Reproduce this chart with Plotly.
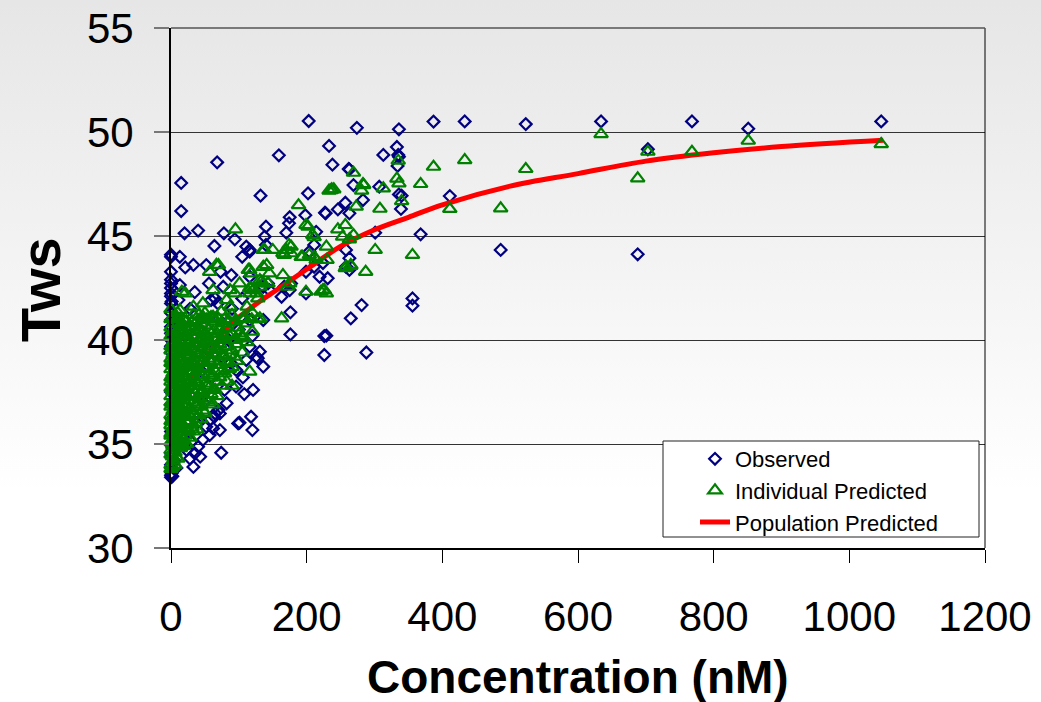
import base64
import plotly.graph_objects as go

# ---------------- data ----------------
# Observed (C nM, Tws)
obs_top = [(203, 50.53), (274, 50.2), (336, 50.13), (387, 50.5), (433, 50.51), (523, 50.38),
           (634, 50.51), (768, 50.51), (851, 50.16), (1047, 50.51), (703, 49.17), (233, 49.33),
           (333, 49.28), (68, 48.54), (159, 48.88), (313, 48.9), (335, 48.9), (336, 48.81),
           (238, 48.43), (334, 48.37), (263, 48.2), (262, 48.22), (15, 47.55)]
obs_upper = [(15, 46.2), (132, 46.94), (202, 47.05), (269, 47.45), (283, 46.73), (307, 47.37),
             (340, 46.94), (339, 46.3), (411, 46.92), (257, 46.6), (246, 46.28), (227, 46.12),
             (198, 46.0), (175, 45.9), (336, 47.0), (263, 46.09), (228, 46.09)]
obs_outliers = [(368, 45.08), (486, 44.33), (688, 44.12), (356, 42.0), (356, 41.65), (288, 39.4),
                (301, 45.16), (281, 41.68), (265, 41.04), (229, 40.21), (226, 40.19), (226, 39.28),
                (176, 40.27), (176, 41.33)]
obs_band = [(258, 44.33), (263, 43.93), (258, 43.52), (263, 43.37), (174, 45.61), (140, 45.45),
            (138, 44.97), (140, 44.57), (170, 45.16), (214, 45.2), (211, 44.57), (204, 44.25),
            (116, 44.33), (163, 42.08), (175, 42.4), (167, 42.56), (177, 42.72), (145, 42.4),
            (136, 42.56), (143, 42.72), (116, 43.04), (199, 43.28), (219, 43.04), (231, 42.97),
            (211, 43.52), (224, 43.7), (199, 42.24), (20, 45.13), (40, 45.26), (78, 45.13),
            (64, 44.52), (94, 44.84), (111, 44.49), (116, 44.25), (105, 44.0), (13, 44.0),
            (21, 43.49), (33, 43.61), (52, 43.6), (56, 42.72), (73, 43.28), (89, 43.12),
            (77, 42.56), (65, 42.0), (69, 41.76), (59, 41.92), (13, 42.64), (11, 41.92),
            (11, 40.8), (13, 40.48), (3, 40.96), (116, 40.96), (136, 40.96)]
obs_axis = [(0, 33.4), (0, 33.5), (1, 33.6), (2, 33.45), (0, 34.0), (1, 34.5), (0, 35.0),
            (0, 35.6), (1, 36.2), (0, 36.9), (0, 37.5), (1, 38.1), (0, 38.8), (0, 39.4),
            (0, 39.7), (0, 40.0), (0, 40.32), (0, 40.64), (0, 40.96), (0, 41.3), (0, 41.76),
            (1, 41.85), (0, 42.1), (0, 42.24), (0, 42.5), (0, 42.72), (0, 42.9), (0, 43.28),
            (0, 44.0), (0, 44.1)]
obs_cluster = [(8, 33.85), (33, 33.9), (23, 34.71), (35, 34.55), (43, 34.39), (40, 34.87),
               (28, 34.3), (18, 34.9), (30, 35.1), (74, 34.58), (52, 35.83), (57, 35.43),
               (72, 35.67), (62, 35.75), (64, 36.31), (57, 36.15), (65, 36.47), (70, 36.63),
               (99, 35.99), (101, 36.02), (118, 36.31), (120, 35.67), (82, 36.96), (72, 36.47),
               (79, 37.6), (96, 37.76), (108, 37.4), (121, 37.6), (96, 38.56), (111, 39.04),
               (136, 38.72), (126, 39.2), (128, 39.12), (131, 39.44), (116, 39.68), (5, 34.2),
               (5, 35.3), (5, 36.5), (5, 37.7), (5, 39.0), (20, 36.5), (30, 37.8), (45, 38.5),
               (15, 39.0), (55, 39.5), (85, 40.0), (40, 40.5), (70, 41.0), (25, 35.6), (48, 37.0),
               (90, 41.5), (100, 40.5), (60, 38.2), (28, 41.5), (105, 42.0), (35, 42.3),
               (88, 38.9), (106, 38.2), (120, 40.2), (75, 39.2), (47, 35.2), (38, 36.0)]

# Individual Predicted (C nM, Tws)
ind_far = [(634, 49.9), (703, 49.05), (768, 49.05), (851, 49.58), (1047, 49.42), (688, 47.77),
           (387, 48.33), (433, 48.65), (523, 48.22), (368, 47.5), (411, 46.3), (486, 46.33),
           (356, 44.09), (301, 44.33)]
ind_upper = [(335, 48.62), (269, 48.04), (333, 47.76), (336, 47.53), (283, 47.5), (284, 47.45),
             (313, 47.29), (281, 47.18), (237, 47.24), (233, 47.18), (236, 47.21), (240, 47.24),
             (188, 46.48), (273, 46.41), (308, 46.31), (340, 46.68), (199, 45.53), (202, 45.45),
             (209, 45.05), (211, 44.94), (246, 45.32), (257, 45.53), (269, 45.05), (263, 44.84),
             (253, 44.97), (95, 45.32)]
ind_band = [(287, 43.28), (265, 43.56), (257, 43.45), (258, 43.52), (265, 43.6), (229, 44.49),
            (230, 43.85), (211, 44.0), (194, 44.0), (174, 44.57), (170, 44.33), (177, 44.49),
            (165, 44.17), (167, 44.09), (177, 44.17), (192, 44.0), (204, 44.09), (214, 43.85),
            (138, 44.33), (150, 44.33), (136, 44.33), (141, 43.6), (145, 43.2), (131, 42.88),
            (136, 42.72), (121, 42.4), (165, 43.12), (136, 43.52), (133, 42.8), (143, 42.72),
            (175, 42.72), (172, 42.56), (199, 42.32), (221, 42.32), (224, 42.4), (226, 42.4),
            (229, 42.24), (116, 43.37), (116, 42.5), (163, 41.04), (131, 41.04), (126, 42.24),
            (131, 42.56), (67, 43.61), (70, 43.6), (57, 43.28), (114, 43.37), (118, 43.2),
            (16, 42.32), (21, 42.24), (101, 42.72), (118, 42.48), (116, 38.48), (94, 42.24),
            (116, 42.24), (82, 41.92), (87, 41.6), (74, 41.36), (62, 41.12), (62, 42.4),
            (47, 41.76), (33, 41.6), (13, 41.44), (47, 41.12), (40, 40.96), (101, 40.32),
            (106, 40.08), (82, 39.68), (77, 40.24), (67, 39.52), (87, 42.4), (109, 41.05),
            (119, 41.0), (0, 41.48)]
# dense mass near the origin: concentration column -> Tws values
ind_dense = {
    0: [33.8, 34.0, 34.5, 34.7, 35.1, 35.4, 35.5, 35.9, 36.1, 36.4, 36.8, 37.0, 37.3, 37.7,
        38.0, 38.2, 38.6, 38.9, 39.1, 39.5, 39.7, 40.2, 40.6, 41.0],
    2: [33.9, 34.4, 35.0, 35.6, 36.2, 36.9, 37.6, 38.3, 39.0, 39.7, 40.4, 41.1],
    3: [34.2, 34.9, 35.2, 35.8, 36.3, 36.6, 37.1, 37.5, 37.9, 38.4, 38.8, 39.3, 39.9, 40.4],
    6: [34.0, 34.6, 35.3, 35.7, 36.0, 36.5, 36.9, 37.2, 37.8, 38.1, 38.7, 39.0, 39.6, 40.1, 40.8],
    8: [34.4, 35.1, 35.8, 36.6, 37.3, 38.0, 38.8, 39.5, 40.3, 41.0],
    10: [34.3, 35.0, 35.6, 36.2, 36.7, 37.4, 37.9, 38.5, 39.2, 39.8, 40.5, 41.3],
    12: [34.9, 35.8, 36.5, 37.2, 38.2, 39.0, 39.7, 40.4, 41.0],
    14: [34.8, 35.4, 36.0, 36.8, 37.3, 38.0, 38.6, 39.4, 40.0, 40.7],
    16: [35.1, 35.7, 36.6, 37.5, 38.4, 39.1, 39.9, 40.8],
    18: [34.9, 35.2, 35.9, 36.4, 37.1, 37.7, 38.3, 38.9, 39.6, 40.3, 41.0],
    21: [35.4, 36.1, 36.8, 37.4, 38.1, 38.7, 39.4, 40.0, 40.6],
    23: [35.0, 35.7, 36.3, 36.9, 37.6, 38.2, 38.8, 39.5, 40.2, 40.9],
    26: [35.6, 36.4, 37.1, 37.9, 38.5, 39.2, 39.9, 40.4],
    28: [35.3, 36.1, 36.7, 37.4, 38.0, 38.7, 39.3, 40.0, 40.6],
    31: [35.8, 36.6, 37.3, 38.2, 38.9, 39.6, 40.2, 40.9],
    33: [35.6, 36.4, 37.0, 37.8, 38.5, 39.1, 39.8, 40.5, 41.2],
    36: [36.0, 36.8, 37.4, 38.0, 38.8, 39.4, 40.1, 40.8],
    38: [35.7, 36.2, 36.9, 37.6, 38.3, 39.0, 39.7, 40.4],
    41: [36.4, 37.2, 37.9, 38.6, 39.3, 40.0, 40.6, 41.2],
    44: [36.2, 36.8, 37.5, 38.1, 38.9, 39.5, 40.1, 40.8],
    47: [36.6, 37.5, 38.3, 39.0, 39.8, 40.4, 41.0],
    50: [36.5, 37.2, 37.9, 38.6, 39.3, 40.0, 40.7, 41.3],
    53: [37.1, 37.8, 38.7, 39.5, 40.2, 41.0],
    56: [37.0, 37.7, 38.4, 39.1, 39.9, 40.5],
    59: [37.4, 38.2, 38.9, 39.6, 40.3, 41.1],
    62: [36.9, 37.6, 38.3, 39.0, 39.7, 40.4, 41.0],
    65: [37.6, 38.5, 39.3, 40.1, 40.9],
    68: [37.3, 38.0, 38.8, 39.6, 40.3, 41.1],
    72: [38.2, 39.0, 39.8, 40.5],
    75: [37.8, 38.5, 39.3, 40.0, 40.8],
    79: [38.4, 39.2, 40.1, 41.0],
    82: [38.0, 38.9, 39.7, 40.6],
    86: [38.6, 39.3, 40.2, 40.9],
    90: [37.8, 38.7, 39.5, 40.3, 41.2],
    94: [39.2, 40.0, 40.9],
    98: [39.0, 39.8, 40.6],
    105: [39.4, 40.2, 41.0],
    112: [39.9, 40.8, 41.6],
    120: [40.4, 41.3],
    128: [41.0, 42.0],
}

# Population Predicted curve
pop_x = [0, 25, 50, 80, 120, 160, 200, 250, 300, 350, 400, 500, 600, 700, 800, 900, 1050]
pop_y = [36.6, 37.8, 39.0, 40.5, 41.6, 42.5, 43.4, 44.5, 45.3, 45.9, 46.5, 47.4, 48.0, 48.6,
         49.0, 49.3, 49.6]

x_ticks = [0, 200, 400, 600, 800, 1000, 1200]
y_ticks = [30, 35, 40, 45, 50, 55]

# ---------------- assemble ----------------
obs_pts = obs_top + obs_upper + obs_outliers + obs_band + obs_axis + obs_cluster
ind_pts = ind_far + ind_upper + ind_band
for c, vals in ind_dense.items():
    ind_pts += [(c, v) for v in vals]

obs_x = [p[0] for p in obs_pts]
obs_y = [p[1] for p in obs_pts]
ind_x = [p[0] for p in ind_pts]
ind_y = [p[1] for p in ind_pts]

FONT = "Liberation Sans, Arial, sans-serif"
W, H = 1041, 702
L, R, T, B = 171, 56, 28, 154
PW, PH = W - L - R, H - T - B

fig = go.Figure()
fig.add_trace(go.Scatter(
    x=obs_x, y=obs_y, mode="markers", name="Observed", legendrank=1,
    marker=dict(symbol="diamond-open", size=9, color="#000080", line=dict(width=2.2, color="#000080")),
    cliponaxis=False))
fig.add_trace(go.Scatter(
    x=pop_x, y=pop_y, mode="lines", name="Population Predicted", legendrank=3,
    line=dict(color="#ff0000", width=5, shape="spline"), cliponaxis=False))
fig.add_trace(go.Scatter(
    x=ind_x, y=ind_y, mode="markers", name="Individual Predicted", legendrank=2,
    marker=dict(symbol="triangle-up-open", size=12, color="#008000", line=dict(width=2.2, color="#008000")),
    cliponaxis=False))

svg = ("<svg xmlns='http://www.w3.org/2000/svg' width='1041' height='702'>"
       "<defs><linearGradient id='g' x1='0' y1='0' x2='0' y2='1'>"
       "<stop offset='0' stop-color='#e6e6e6'/><stop offset='0.7' stop-color='#ffffff'/>"
       "<stop offset='1' stop-color='#ffffff'/></linearGradient></defs>"
       "<rect width='1041' height='702' fill='url(#g)'/></svg>")
src = "data:image/svg+xml;base64," + base64.b64encode(svg.encode()).decode()

def px_x(p):
    return (p - L) / PW

def px_y(p):
    return (H - B - p) / PH

fig.update_layout(
    width=W, height=H,
    margin=dict(l=L, r=R, t=T, b=B, pad=0, autoexpand=False),
    paper_bgcolor="white", plot_bgcolor="rgba(0,0,0,0)",
    font=dict(family=FONT, color="black"),
    showlegend=True,
    legend=dict(x=px_x(695), y=px_y(438), xanchor="left", yanchor="top",
                bgcolor="rgba(0,0,0,0)", borderwidth=0,
                font=dict(size=22, family=FONT, color="black"), traceorder="normal"),
    images=[dict(source=src, xref="paper", yref="paper", x=-L / PW, y=1 + T / PH,
                 sizex=W / PW, sizey=H / PH, xanchor="left", yanchor="top",
                 sizing="stretch", layer="below")],
    shapes=[
        dict(type="rect", xref="paper", yref="paper", x0=px_x(663), x1=px_x(979),
             y0=px_y(537), y1=px_y(441), line=dict(color="#222222", width=1),
             fillcolor="white", layer="above"),
        dict(type="line", xref="paper", yref="paper", x0=1, x1=1, y0=0, y1=1,
             line=dict(color="black", width=1), layer="above"),
        dict(type="line", xref="paper", yref="paper", x0=0, x1=1, y0=1, y1=1,
             line=dict(color="#555555", width=1.5), layer="above"),
    ],
    annotations=[
        dict(text="<b>Concentration (nM)</b>", xref="paper", yref="paper",
             x=0.5, y=px_y(677), xanchor="center", yanchor="middle", showarrow=False,
             font=dict(size=46, family=FONT, color="black")),
        dict(text="<b>Tws</b>", xref="paper", yref="paper", textangle=-90,
             x=px_x(40), y=px_y(290), xanchor="center", yanchor="middle", showarrow=False,
             font=dict(size=56, family=FONT, color="black")),
    ],
)
fig.update_xaxes(range=[0, 1200], tickvals=x_ticks, ticktext=[str(v) for v in x_ticks],
                 showgrid=False, zeroline=False, showline=True, linecolor="black", linewidth=2,
                 ticks="outside", ticklen=13, tickwidth=1, tickcolor="black", automargin=False,
                 tickfont=dict(size=42, family=FONT, color="black"), ticklabelstandoff=18)
fig.update_yaxes(range=[30, 55], tickvals=y_ticks, ticktext=[str(v) for v in y_ticks],
                 showgrid=True, gridcolor="#333333", gridwidth=1, zeroline=False,
                 showline=True, linecolor="black", linewidth=2, automargin=False,
                 ticks="outside", ticklen=15, tickwidth=2, tickcolor="#777777",
                 tickfont=dict(size=42, family=FONT, color="black"), ticklabelstandoff=12)

fig.write_html("out.html", config={"displayModeBar": False},
               post_script="document.body.style.margin='0px';document.body.style.padding='0px';")
